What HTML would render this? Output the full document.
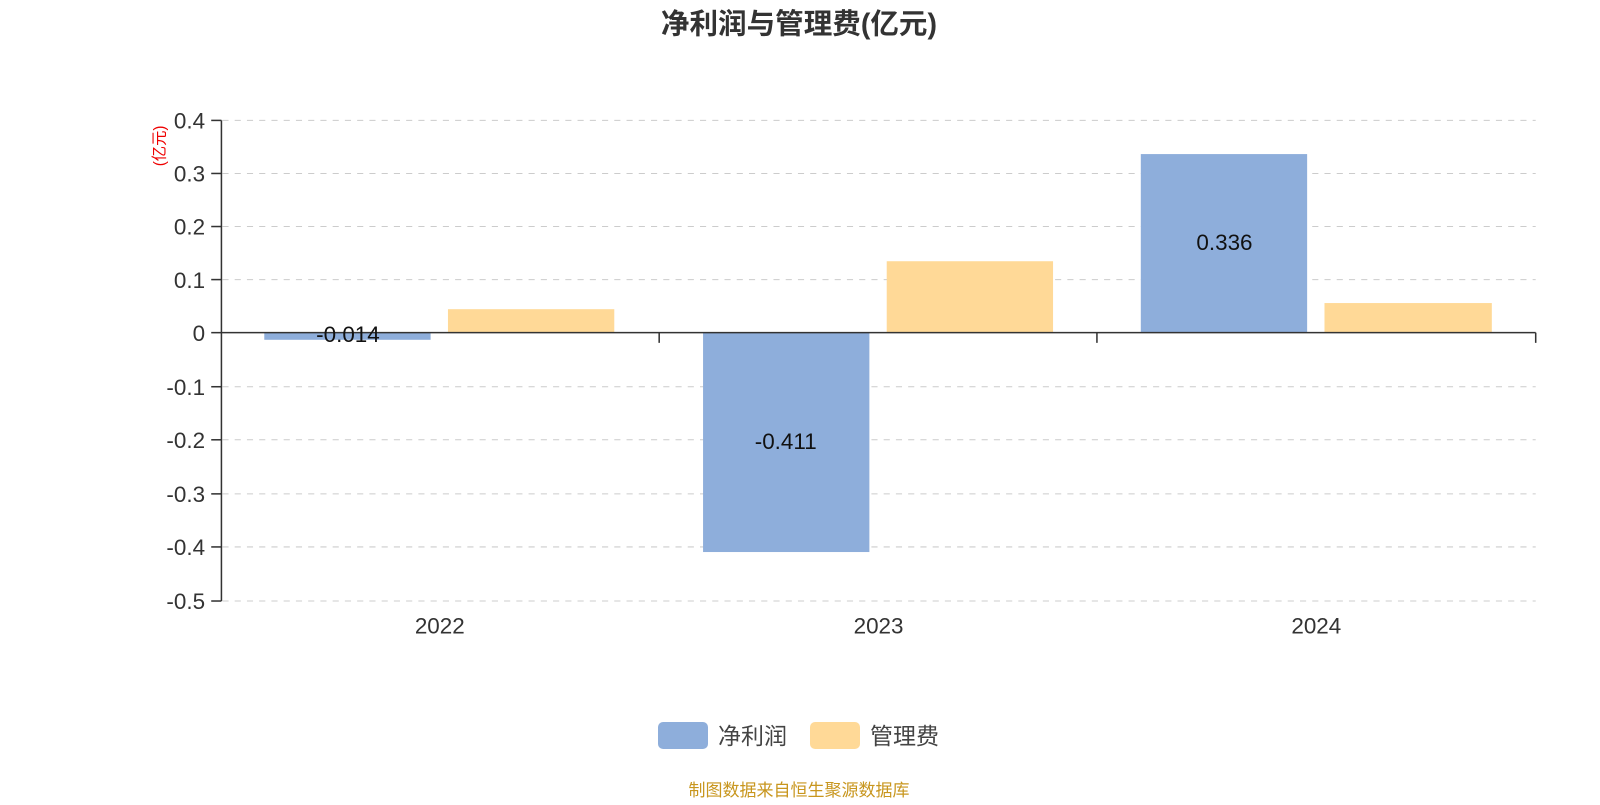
<!DOCTYPE html>
<html><head><meta charset="utf-8"><style>
body{margin:0;background:#fff;width:1600px;height:800px;overflow:hidden;font-family:"Liberation Sans","Noto Sans CJK SC",sans-serif;}
</style></head><body>
<svg width="1600" height="800" xmlns="http://www.w3.org/2000/svg" font-family="'Liberation Sans','Noto Sans CJK SC',sans-serif">
<g transform="scale(1.0204)">
<text x="783" y="33" text-anchor="middle" font-size="28" font-weight="bold" fill="#333">净利润与管理费(亿元)</text>
<g stroke="#ccc" stroke-dasharray="6,6" stroke-width="1">
<line x1="218" y1="118" x2="1505" y2="118"/><line x1="218" y1="170" x2="1505" y2="170"/>
<line x1="218" y1="222" x2="1505" y2="222"/><line x1="218" y1="274" x2="1505" y2="274"/>
<line x1="218" y1="379" x2="1505" y2="379"/><line x1="218" y1="431" x2="1505" y2="431"/>
<line x1="218" y1="484" x2="1505" y2="484"/><line x1="218" y1="536" x2="1505" y2="536"/>
<line x1="218" y1="589" x2="1505" y2="589"/>
</g>
<rect x="259" y="326" width="163" height="7" fill="#8eaedb"/>
<rect x="439" y="303" width="163" height="23" fill="#ffd997"/>
<rect x="689" y="326" width="163" height="215" fill="#8eaedb"/>
<rect x="869" y="256" width="163" height="70" fill="#ffd997"/>
<rect x="1118" y="151" width="163" height="175" fill="#8eaedb"/>
<rect x="1298" y="297" width="164" height="29" fill="#ffd997"/>
<g stroke="#333" stroke-width="1.5">
<line x1="217" y1="118" x2="217" y2="589"/>
<line x1="217" y1="326" x2="1505" y2="326"/>
<line x1="207" y1="118" x2="217" y2="118"/><line x1="207" y1="170" x2="217" y2="170"/>
<line x1="207" y1="222" x2="217" y2="222"/><line x1="207" y1="274" x2="217" y2="274"/>
<line x1="207" y1="326" x2="217" y2="326"/><line x1="207" y1="379" x2="217" y2="379"/>
<line x1="207" y1="431" x2="217" y2="431"/><line x1="207" y1="484" x2="217" y2="484"/>
<line x1="207" y1="536" x2="217" y2="536"/><line x1="207" y1="589" x2="217" y2="589"/>
<line x1="646" y1="326" x2="646" y2="336"/><line x1="1075" y1="326" x2="1075" y2="336"/><line x1="1505" y1="326" x2="1505" y2="336"/>
</g>
<g font-size="22" fill="#333" text-anchor="end">
<text x="201" y="126">0.4</text><text x="201" y="178">0.3</text><text x="201" y="230">0.2</text>
<text x="201" y="282">0.1</text><text x="201" y="334">0</text><text x="201" y="387">-0.1</text>
<text x="201" y="439">-0.2</text><text x="201" y="492">-0.3</text><text x="201" y="544">-0.4</text>
<text x="201" y="597">-0.5</text>
</g>
<text transform="translate(161,143) rotate(-90)" text-anchor="middle" font-size="15" fill="#e00">(亿元)</text>
<g font-size="22" fill="#333" text-anchor="middle">
<text x="431" y="621">2022</text><text x="861" y="621">2023</text><text x="1290" y="621">2024</text>
</g>
<g font-size="22" fill="#111" text-anchor="middle">
<text x="341" y="335">-0.014</text><text x="770" y="440">-0.411</text><text x="1200" y="245">0.336</text>
</g>
</g>
<rect x="658" y="722" width="50" height="27" rx="5" fill="#8eaedb"/>
<text x="718" y="744" font-size="23" fill="#444">净利润</text>
<rect x="810" y="722" width="50" height="27" rx="5" fill="#ffd997"/>
<text x="870" y="744" font-size="23" fill="#444">管理费</text>
<text x="799" y="796" text-anchor="middle" font-size="17" fill="#c8961e">制图数据来自恒生聚源数据库</text>
</svg>
</body></html>
